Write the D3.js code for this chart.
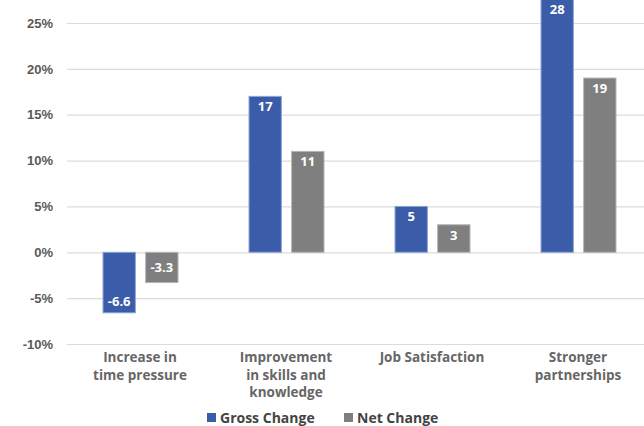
<!DOCTYPE html>
<html>
<head>
<meta charset="utf-8">
<script src="https://cdn.jsdelivr.net/npm/d3@7"></script>
<style>
  body { margin: 0; background: #fff; }
  svg { display: block; font-family: "Open Sans", "Lato", sans-serif; }
</style>
</head>
<body>
<svg id="chart" width="644" height="426"></svg>
<script>
// chart data
const categories = ["Increase in|time pressure", "Improvement|in skills and|knowledge", "Job Satisfaction", "Stronger|partnerships"];
const seriesNames = ["Gross Change", "Net Change"];
const grossValues = [-6.6, 17, 5, 28];
const netValues = [-3.3, 11, 3, 19];
const valueLabels = [["-6.6", "17", "5", "28"], ["-3.3", "11", "3", "19"]];
const yTicks = [-10, -5, 0, 5, 10, 15, 20, 25];
const colors = ["#3a5ca9", "#7f7f7f"];

const svg = d3.select("#chart");

// scales
const x = d3.scaleBand()
    .domain(categories)
    .range([67, 651]);

const x1 = d3.scaleBand()
    .domain(seriesNames)
    .range([36, 111])
    .paddingInner(0.24);

const y = d3.scaleLinear()
    .domain([-10, 25])
    .range([344, 23]);

// gridlines + y labels
const yAxis = d3.axisLeft(y)
    .tickValues(yTicks)
    .tickSize(-(644 - 67))
    .tickFormat(d => d + "%");

const gAxis = svg.append("g")
    .attr("transform", "translate(67,0)")
    .call(yAxis);
gAxis.select(".domain").remove();
gAxis.selectAll(".tick line").attr("stroke", "#dcdcdc").attr("stroke-width", 1.2);
gAxis.selectAll(".tick text")
    .attr("x", -14)
    .attr("fill", "#595959")
    .style("font-size", "13px")
    .style("font-weight", "bold");

// bars
const rows = categories.map((c, i) => ({ cat: c, vals: [grossValues[i], netValues[i]], i: i }));

const groups = svg.selectAll(".grp")
    .data(rows)
    .enter().append("g")
    .attr("class", "grp")
    .attr("transform", d => "translate(" + x(d.cat) + ",0)");

const bars = groups.selectAll(".bar")
    .data(d => d.vals.map((v, s) => ({ v: v, s: s, i: d.i })))
    .enter();

bars.append("rect")
    .attr("class", "bar")
    .attr("x", d => x1(seriesNames[d.s]))
    .attr("y", d => y(Math.max(0, d.v)))
    .attr("width", x1.bandwidth())
    .attr("height", d => Math.abs(y(d.v) - y(0)))
    .attr("fill", d => colors[d.s])
    .attr("stroke", d => d.s === 0 ? "#8fa6d6" : "#b5b5b5")
    .attr("stroke-width", 1);

bars.append("text")
    .attr("x", d => x1(seriesNames[d.s]) + x1.bandwidth() / 2)
    .attr("y", d => {
        if (d.v >= 0) return Math.max(y(d.v) + 15, 14);
        const h = y(d.v) - y(0);
        return h < 35 ? y(0) + h / 2 + 5 : y(d.v) - 7;
    })
    .attr("text-anchor", "middle")
    .attr("fill", "#fff")
    .style("font-size", "13px")
    .style("font-weight", "bold")
    .text(d => valueLabels[d.s][d.i]);

// category labels, one text per line
groups.each(function(d) {
    d3.select(this).selectAll(".cat")
        .data(d.cat.split("|"))
        .enter().append("text")
        .attr("class", "cat")
        .attr("x", x.bandwidth() / 2)
        .attr("y", (t, i) => 362 + i * 17.5)
        .attr("text-anchor", "middle")
        .attr("fill", "#666")
        .style("font-size", "13.5px")
        .style("font-weight", "bold")
        .text(t => t);
});

// legend
const legendX = [207, 344];
const legend = svg.selectAll(".leg")
    .data(seriesNames)
    .enter().append("g")
    .attr("class", "leg")
    .attr("transform", (d, i) => "translate(" + legendX[i] + ",413)");

legend.append("rect")
    .attr("width", 9)
    .attr("height", 9)
    .attr("fill", (d, i) => colors[i]);

legend.append("text")
    .attr("x", 13)
    .attr("y", 10)
    .attr("fill", "#444")
    .style("font-size", "14px")
    .style("font-weight", "bold")
    .text(d => d);
</script>
</body>
</html>
